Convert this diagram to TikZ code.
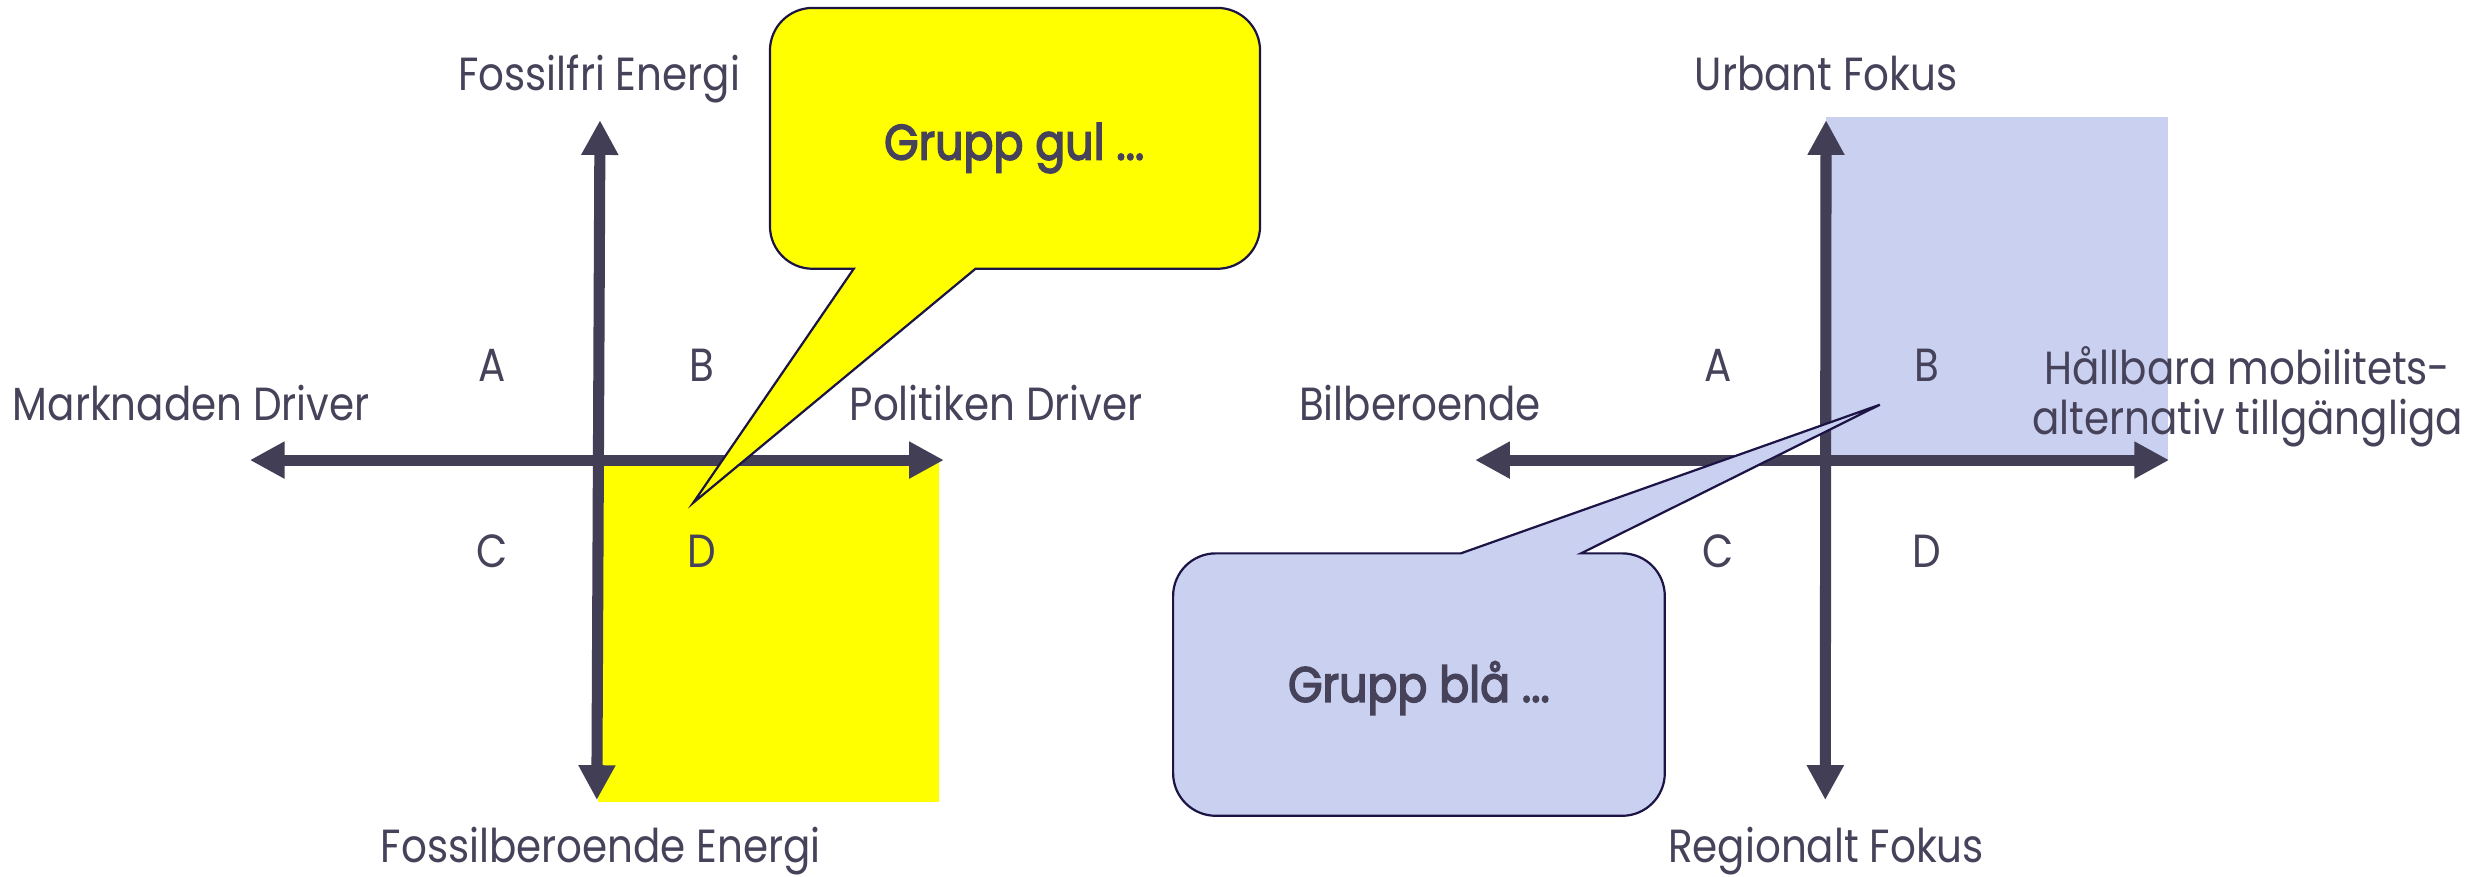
\documentclass[tikz,border=0pt]{standalone}
\usepackage{fontspec}
\setmainfont{Poppins}[FakeStretch=0.87]
\newfontfamily\grpfont{Poppins}[FakeStretch=0.89, FakeBold=3]
\usetikzlibrary{arrows.meta}
\definecolor{txt}{HTML}{45425A}
\definecolor{axiscol}{HTML}{413E56}
\definecolor{outl}{HTML}{1C1445}
\definecolor{blu}{HTML}{CAD0F0}
\definecolor{yel}{HTML}{FFFF00}
\begin{document}
\begin{tikzpicture}[x=1pt,y=-1pt,
  lbl/.style={font=\fontsize{29.4}{31.5}\selectfont, text=txt, anchor=base, inner sep=0pt},
  grp/.style={font=\grpfont\fontsize{31.5}{36}\selectfont, text=txt, anchor=base, inner sep=0pt},
  axisarrow/.style={draw=axiscol, line width=7pt,
    {Triangle[length=22pt,width=22pt]}-{Triangle[length=22pt,width=22pt]}},
  callout/.style={fill=#1, draw=outl, line width=1.4pt, line join=miter}]
\useasboundingbox (0,0) rectangle (1568,554.7);
\fill[white] (0,0) rectangle (1568,554.7);

% ---------- left diagram ----------
\coordinate (Lc) at (378.5,291);
\coordinate (Ltop) at (379.5,76);
\coordinate (Lbot) at (377.5,506);
\coordinate (Lleft) at (158,291);
\coordinate (Lright) at (597,291);
\fill[yel] (Lc) rectangle (594,507);
\draw[axisarrow] (Lleft) -- (Lright);
\draw[axisarrow] (Lbot) -- (Ltop);

\node[lbl] (fossilfri) at (379,57) {Fossilfri Energi};
\node[lbl] (fossilber) at (380,545.5) {Fossilberoende Energi};
\node[lbl] (marknaden) at (121,266) {Marknaden Driver};
\node[lbl] (politiken) at (630,266) {Politiken Driver};
\node[lbl] (LA) at (311.5,241) {A};
\node[lbl] (LB) at (444,241) {B};
\node[lbl] (LC) at (311.5,359) {C};
\node[lbl] (LD) at (444,359) {D};

% yellow callout
\coordinate (ytip) at (438.5,318);
\draw[callout=yel] (540,170) -- (ytip) -- (617,170) -- (770,170) arc (90:0:27)
  -- (797,32) arc (0:-90:27) -- (514,5) arc (-90:-180:27) -- (487,143)
  arc (180:90:27) -- cycle;
\node[grp] (gul) at (641.5,101) {Grupp gul ...};

% ---------- right diagram ----------
\coordinate (Rc) at (1155,291);
\coordinate (Rtop) at (1155,76);
\coordinate (Rbot) at (1154.5,506);
\coordinate (Rleft) at (933,291);
\coordinate (Rright) at (1372,291);
\fill[blu] (1155,74) rectangle (1371.5,291);
\draw[axisarrow] (Rleft) -- (Rright);
\draw[axisarrow] (Rbot) -- (Rtop);

\node[lbl] (urbant) at (1155,57) {Urbant Fokus};
\node[lbl] (regionalt) at (1155,545.5) {Regionalt Fokus};
\node[lbl] (bil) at (898,266) {Bilberoende};
\node[lbl, align=center] (hallbara) at (1421.5,275) {Hållbara mobilitets-\\alternativ tillgängliga};
\node[lbl] (RA) at (1087,241) {A};
\node[lbl] (RB) at (1219,241) {B};
\node[lbl] (RC) at (1087,359) {C};
\node[lbl] (RD) at (1219,359) {D};

% blue callout
\coordinate (btip) at (1189,256);
\draw[callout=blu] (1000,350) -- (btip) -- (924,350) -- (769,350) arc (-90:-180:27)
  -- (742,489) arc (180:90:27) -- (1026,516) arc (90:0:27) -- (1053,377)
  arc (0:-90:27) -- cycle;
\node[grp] (bla) at (897.5,444) {Grupp blå ...};
\end{tikzpicture}
\end{document}
